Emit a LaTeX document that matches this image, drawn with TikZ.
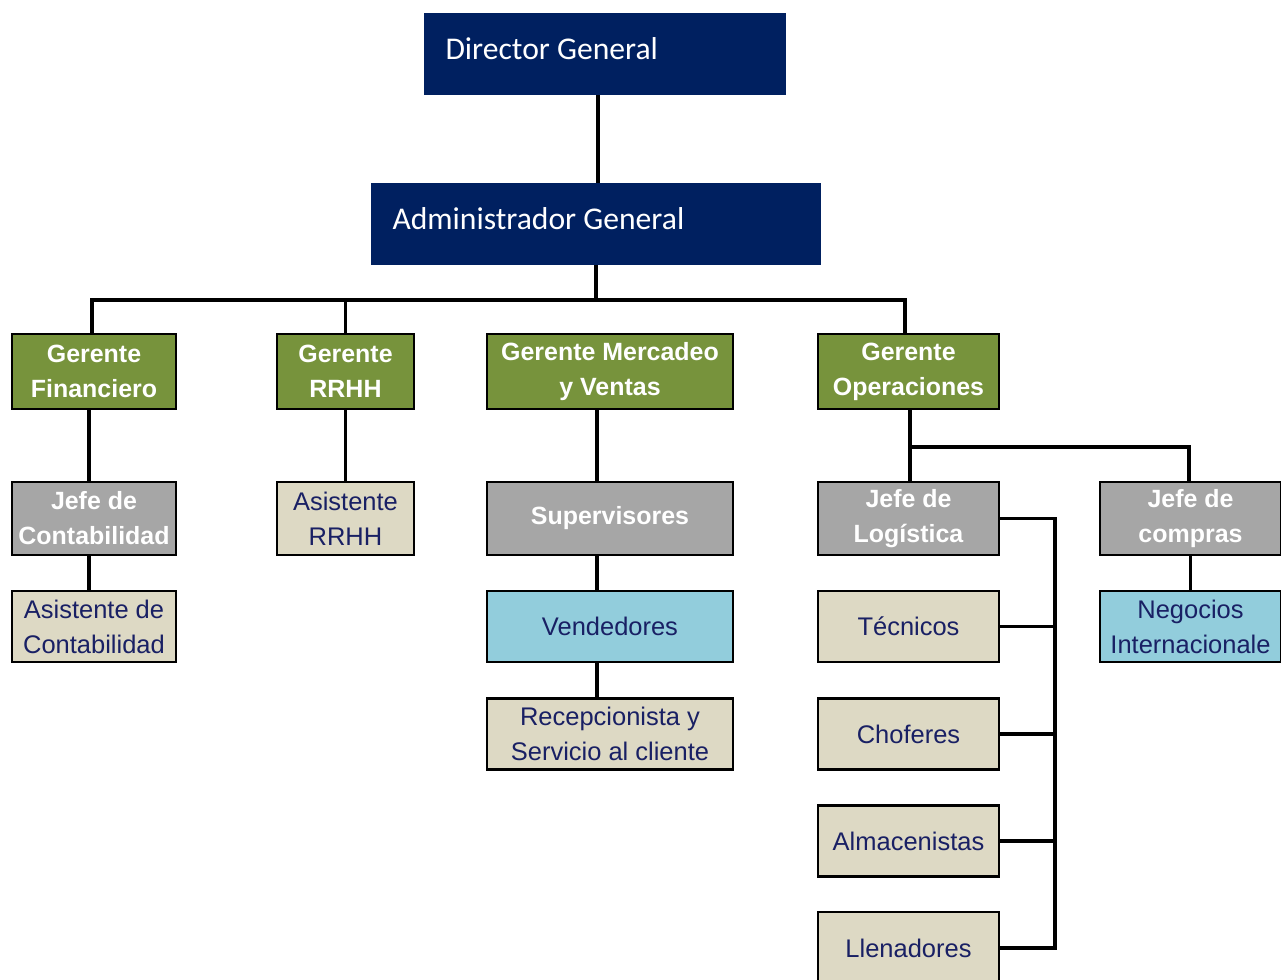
\documentclass[tikz,border=0pt]{standalone}
\usepackage{fontspec}
\setmainfont{Liberation Sans}
\newfontfamily\carlito{Carlito}
\usepackage{tikz}

\definecolor{navy}{RGB}{0,32,96}
\definecolor{olive}{RGB}{119,147,60}
\definecolor{grisbox}{RGB}{166,166,166}
\definecolor{beige}{RGB}{221,217,196}
\definecolor{celeste}{RGB}{146,205,220}
\definecolor{tinta}{RGB}{25,32,100}

\begin{document}
\begin{tikzpicture}[x=1cm, y=-1cm,
    top/.style={fill=navy, text=white, font=\carlito\fontsize{18}{22}\selectfont,
        inner xsep=0.43cm, inner ysep=0pt, align=flush left,
        text height=0.92cm, text depth=0.72cm},
    box/.style={draw=black, line width=1.6pt, align=center, inner sep=0pt,
        font=\fontsize{14.5}{20}\selectfont},
    gerente/.style={box, fill=olive, text=white, font=\bfseries\fontsize{14.2}{20}\selectfont,
        minimum height=1.5cm},
    jefe/.style={box, fill=grisbox, text=white, font=\bfseries\fontsize{14.2}{20}\selectfont,
        minimum height=1.46cm},
    asist/.style={box, fill=beige, text=tinta, minimum height=1.42cm},
    ventas/.style={box, fill=celeste, text=tinta, minimum height=1.42cm},
    conn/.style={draw=black, line width=2pt}]
    \useasboundingbox (0,0) rectangle (25.62,19.6);

    \node[top, text width=6.38cm] (DG) at (12.1,1.08) {Director General};
    \node[top, text width=8.14cm] (AG) at (11.92,4.48) {Administrador General};

    \node[gerente, minimum width=3.28cm] (GF) at (1.88,7.43) {Gerente\\Financiero};
    \node[gerente, minimum width=2.74cm] (GR) at (6.91,7.43) {Gerente\\RRHH};
    \node[gerente, minimum width=4.92cm] (GM) at (12.2,7.43) {Gerente Mercadeo\\y Ventas};
    \node[gerente, minimum width=3.62cm] (GO) at (18.17,7.43) {Gerente\\Operaciones};

    \node[jefe, minimum width=3.28cm] (JC) at (1.88,10.37) {Jefe de\\Contabilidad};
    \node[asist, minimum width=2.74cm, minimum height=1.46cm] (AR) at (6.91,10.37) {Asistente\\RRHH};
    \node[jefe, minimum width=4.92cm] (SV) at (12.2,10.37) {Supervisores};
    \node[jefe, minimum width=3.62cm] (JL) at (18.17,10.37) {Jefe de\\Logística};
    \node[jefe, minimum width=3.62cm] (JCo) at (23.81,10.37) {Jefe de\\compras};

    \node[asist, minimum width=3.28cm] (AC) at (1.88,12.53) {Asistente de\\Contabilidad};
    \node[ventas, minimum width=4.92cm] (VE) at (12.2,12.53) {Vendedores};
    \node[asist, minimum width=3.62cm] (TE) at (18.17,12.53) {Técnicos};
    \node[ventas, minimum width=3.62cm] (NI) at (23.81,12.53) {Negocios\\Internacionale};

    \node[asist, minimum width=4.92cm] (RE) at (12.2,14.68) {Recepcionista y\\Servicio al cliente};
    \node[asist, minimum width=3.62cm] (CH) at (18.17,14.68) {Choferes};
    \node[asist, minimum width=3.62cm] (AL) at (18.17,16.82) {Almacenistas};
    \node[asist, minimum width=3.62cm, minimum height=1.44cm] (LL) at (18.17,18.96) {Llenadores};

    \coordinate (bus) at (11.92,6.0);
    \coordinate (ops) at (18.2,8.94);
    \coordinate (lbar) at (21.1,10.37);

    \draw[conn] (DG.south -| 11.96,0) -- (AG.north -| 11.96,0);
    \draw[conn] (AG.south) -- (bus);
    \draw[conn] (GF.north -| 1.84,0) |- (bus) -| (GO.north -| 18.1,0);
    \draw[conn] (GR.north) -- (GR.north |- bus);
    \draw[conn] (GF.south -| 1.78,0) -- (JC.north -| 1.78,0);
    \draw[conn] (JC.south -| 1.78,0) -- (AC.north -| 1.78,0);
    \draw[conn] (GR) -- (AR);
    \draw[conn] (GM.south -| 11.94,0) -- (SV.north -| 11.94,0);
    \draw[conn] (SV.south -| 11.94,0) -- (VE.north -| 11.94,0);
    \draw[conn] (VE.south -| 11.94,0) -- (RE.north -| 11.94,0);
    \draw[conn] (GO.south -| ops) -- (JL.north -| ops);
    \draw[conn] (ops) -| (JCo.north -| 23.78,0);
    \draw[conn] (JCo) -- (NI);
    \draw[conn] (JL.east) -- (lbar) |- (LL.east);
    \foreach \n in {TE, CH, AL}{
        \draw[conn] (\n.east) -- (\n.east -| lbar);
    }
\end{tikzpicture}
\end{document}
